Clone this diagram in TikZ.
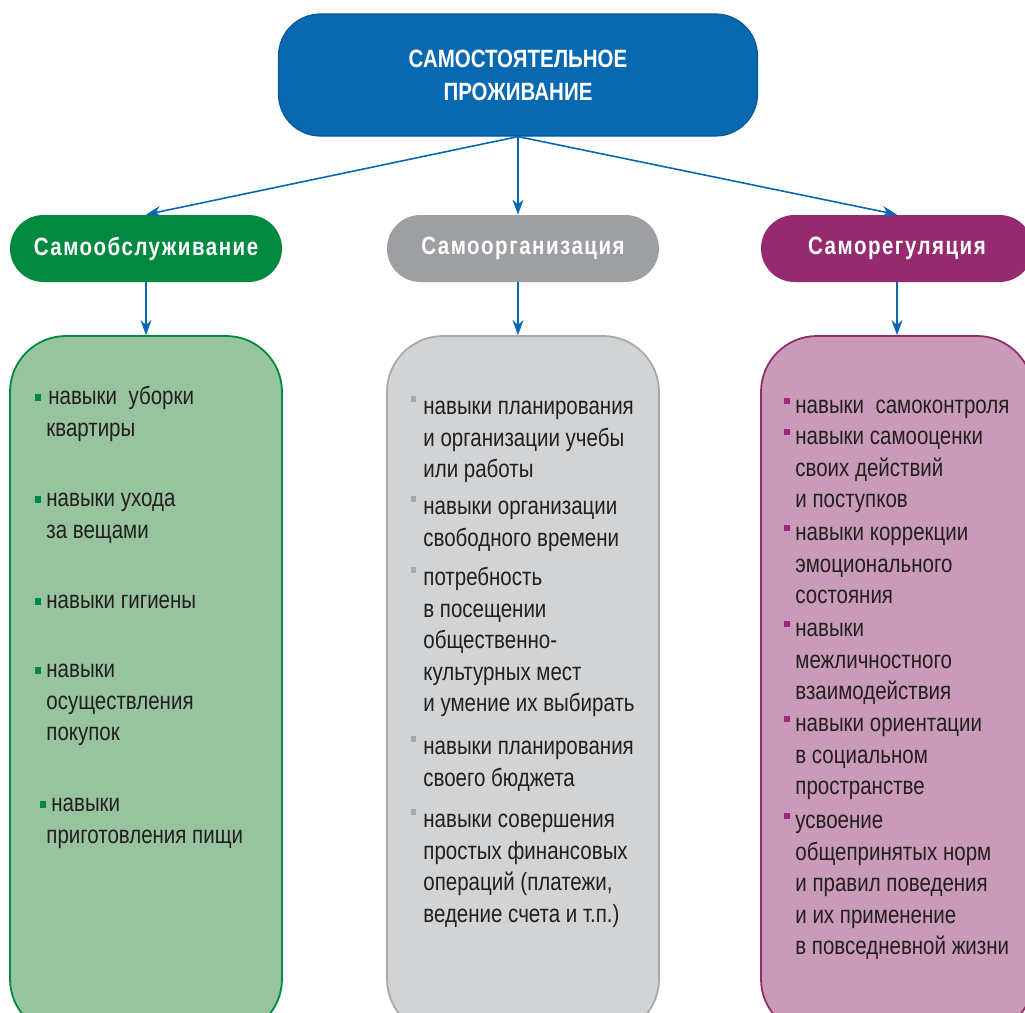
\documentclass[tikz,border=0pt]{standalone}
\usepackage{fontspec}
\setmainfont{Liberation Sans}[FakeStretch=0.82]
\newfontfamily\catfam{Liberation Sans}[FakeStretch=0.82,LetterSpace=6]
\usetikzlibrary{arrows.meta}
\definecolor{liveblue}{HTML}{0868B0}
\definecolor{arrblue}{HTML}{0B66B5}
\definecolor{caregreen}{HTML}{00893F}
\definecolor{carefill}{HTML}{97C49E}
\definecolor{orggrey}{HTML}{9D9FA2}
\definecolor{orgfill}{HTML}{D1D3D5}
\definecolor{regpurple}{HTML}{952B6E}
\definecolor{regfill}{HTML}{CA9BB9}
\definecolor{txtgrey}{HTML}{231F20}
\newcommand{\mkcare}{\strut\llap{\textcolor{caregreen!80!teal}{\rule[1.6pt]{3pt}{3.4pt}}\hspace{2.8pt}}}
\newcommand{\mkorg}{\strut\llap{\textcolor{orggrey!90!white}{\rule[6.4pt]{2.8pt}{2.8pt}}\hspace{3.5pt}}}
\newcommand{\mkreg}{\strut\llap{\textcolor{regpurple!90!magenta}{\rule[4.6pt]{3pt}{3pt}}\hspace{2.6pt}}}

\begin{document}
\begin{tikzpicture}[x=0.5pt,y=-0.5pt,
	arr/.style={draw=arrblue,line width=0.8pt,-{Stealth[length=7.5pt,width=5.5pt]}},
	topbox/.style={rounded corners=21pt,fill=liveblue,draw=liveblue!85!black,line width=0.6pt,
		minimum width=239.5pt,minimum height=61pt,align=center,text=white,
		font=\fontsize{12.5pt}{16.5pt}\selectfont\bfseries},
	catbox/.style={rounded corners=16.75pt,minimum width=136pt,minimum height=33.5pt,
		text=white,font=\catfam\fontsize{12.5pt}{15pt}\selectfont\bfseries},
	listbox/.style={rounded corners=28pt,minimum width=136pt,minimum height=349.5pt,line width=0.9pt},
	itm/.style={anchor=north west,yshift=11.06pt,align=left,inner sep=0pt,text=txtgrey,
		font=\fontsize{12.5pt}{15.8pt}\selectfont}]
	\useasboundingbox (0,0) rectangle (1025,1013);
	\clip (0,0) rectangle (1025,1013);

	\node[topbox] (live) at (518,75) {САМОСТОЯТЕЛЬНОЕ\\ПРОЖИВАНИЕ};

	\node[catbox,fill=caregreen] (care) at (146,248.5) {Самообслуживание};
    \draw[arr] (live.south) -- (care.north);
	\node[catbox,fill=orggrey] (org) at (523,248.5) {Самоорганизация};
    \draw[arr] (live.south) -- (live.south |- org.north);
	\node[catbox,fill=regpurple] (reg) at (897,248.5) {Саморегуляция};
    \draw[arr] (live.south) -- (reg.north);

	\node[listbox,fill=carefill,draw=caregreen] (lcare) at (146,685.5) {};
    \draw[arr] (care) -- (lcare);
	\node[listbox,fill=orgfill,draw=orggrey!90!white] (lorg) at (523,685.5) {};
    \draw[arr] (org.south -| live.south) -- (lorg.north -| live.south);
	\node[listbox,fill=regfill,draw=regpurple] (lreg) at (897,685.5) {};
    \draw[arr] (reg) -- (lreg);

	\node[itm] (care1) at (46,404) {\mkcare\hspace{1pt}навыки\ \ уборки\\квартиры};
	\node[itm] (care2) at (46,506) {\mkcare навыки ухода\\за вещами};
	\node[itm] (care3) at (46,608) {\mkcare навыки гигиены};
	\node[itm] (care4) at (46,677) {\mkcare навыки\\осуществления\\покупок};
	\node[itm] (care5) at (46,811) {\hspace{2.5pt}\mkcare навыки\\приготовления пищи};

	\node[itm] (org1) at (423,414) {\mkorg навыки планирования\\и организации учебы\\или работы};
	\node[itm] (org2) at (423,514) {\mkorg навыки организации\\свободного времени};
	\node[itm] (org3) at (423,585) {\mkorg потребность\\в посещении\\общественно-\\культурных мест\\и умение их выбирать};
	\node[itm] (org4) at (423,754) {\mkorg навыки планирования\\своего бюджета};
	\node[itm] (org5) at (423,827) {\mkorg навыки совершения\\простых финансовых\\операций (платежи,\\ведение счета и т.п.)};

	\node[itm] (reg1) at (795,413) {\mkreg навыки\ \ самоконтроля};
	\node[itm] (reg2) at (795,444) {\mkreg навыки самооценки\\своих действий\\и поступков};
	\node[itm] (reg3) at (795,540) {\mkreg навыки коррекции\\эмоционального\\состояния};
	\node[itm] (reg4) at (795,636) {\mkreg навыки\\межличностного\\взаимодействия};
	\node[itm] (reg5) at (795,731) {\mkreg навыки ориентации\\в социальном\\пространстве};
	\node[itm] (reg6) at (795,828) {\mkreg усвоение\\общепринятых норм\\и правил поведения\\и их применение\\в повседневной жизни};
\end{tikzpicture}
\end{document}
